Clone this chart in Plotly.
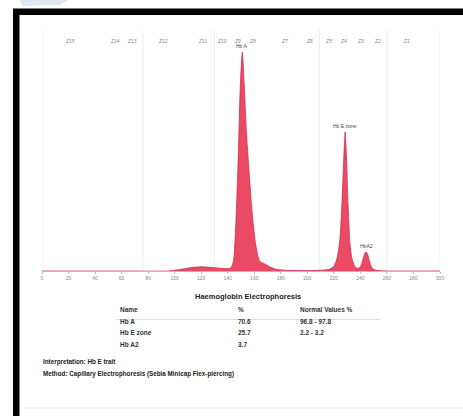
import plotly.graph_objects as go

# ---- data ----
mobility = [0, 60, 95, 105, 113, 120, 127, 135, 141, 143, 144.5, 146, 147.8, 149.5, 151, 152.5, 154, 156,
            158.5, 160.6, 162.5, 164, 167, 172, 177, 185, 200, 212, 217, 220, 222.5, 224.5, 226.2, 227.5,
            228.5, 229.5, 230.7, 232.2, 233.7, 235.5, 237.5, 239.8, 242, 243.3, 244.3, 245.5, 246.8,
            248.8, 252, 260, 300]
signal = [0, 0, 0, 0.8, 1.6, 1.9, 1.7, 1.2, 1.1, 2, 5, 20, 49, 85, 100, 84, 64, 46,
          26, 14, 7.5, 4.5, 3.5, 1.8, 0.7, 0.3, 0.2, 0.4, 0.9, 2.0, 6.0, 14, 32, 52,
          63.5, 52, 30, 12, 5.5, 2.4, 1.2, 1.6, 5.5, 8.0, 8.7, 7.5, 4.5,
          1.2, 0.3, 0, 0]

peak_labels = ["Hb A", "Hb E zone", "HbA2"]
peak_pos = [151, 228.5, 244.3]
peak_heights = [100, 63.5, 8.7]

zone_labels = ["Z15", "Z14", "Z13", "Z12", "Z11", "Z10", "Z9", "Z8", "Z7", "Z6", "Z5", "Z4", "Z3", "Z2", "Z1"]
zone_pos = [21, 55, 68, 91, 121, 136, 147, 159, 183, 202, 216, 227, 240, 253, 275]
zone_lines = [0, 76, 130, 209, 260, 300]

x_ticks = list(range(0, 301, 20))

table_title = "Haemoglobin Electrophoresis"
table_header = ["Name", "%", "Normal Values %"]
names = ["Hb A", "Hb E zone", "Hb A2"]
percents = ["70.6", "25.7", "3.7"]
normal_values = ["96.8 - 97.8", "2.2 - 3.2", ""]
interpretation = "Interpretation: Hb E trait"
method = "Method: Capillary Electrophoresis (Sebia Minicap Flex-piercing)"

# ---- layout geometry ----
W, H = 463, 416
L, R, T, B = 42, 440, 30, 271
PW, PH = R - L, B - T


def px(xp):
    return (xp - L) / PW


def py(yp):
    return (B - yp) / PH


FONT = "Liberation Sans"

fig = go.Figure()
fig.add_trace(go.Scatter(
    x=mobility, y=signal, mode="lines", fill="tozeroy",
    line=dict(color="#D92B4B", width=0.8, shape="spline", smoothing=0.5),
    fillcolor="#EA4A63", hoverinfo="skip", showlegend=False))

shapes = []
for z in zone_lines:
    shapes.append(dict(type="line", xref="x", yref="paper", x0=z, x1=z, y0=0, y1=1,
                       line=dict(color="#EDEDED", width=1), layer="below"))
# frame
shapes.append(dict(type="rect", xref="paper", yref="paper", x0=px(13), x1=px(19.5), y0=py(416), y1=py(9),
                   fillcolor="black", line=dict(width=0)))
shapes.append(dict(type="rect", xref="paper", yref="paper", x0=px(13), x1=px(463), y0=py(15), y1=py(8.5),
                   fillcolor="black", line=dict(width=0)))
# scan artifact top-left
shapes.append(dict(type="path", xref="paper", yref="paper",
                   path=f"M {px(20)} {py(0)} L {px(68)} {py(0)} L {px(60)} {py(5)} L {px(22)} {py(6)} Z",
                   fillcolor="#DDE8F2", line=dict(width=0)))
# table header underline
shapes.append(dict(type="line", xref="paper", yref="paper", x0=px(116), x1=px(380), y0=py(319.5), y1=py(319.5),
                   line=dict(color="#DDDDDD", width=1)))
# bottom faint line
shapes.append(dict(type="line", xref="paper", yref="paper", x0=px(20), x1=px(463), y0=py(408), y1=py(408),
                   line=dict(color="#EEEEEE", width=1)))

ann = []
for lab, xp, h in zip(peak_labels, peak_pos, peak_heights):
    ann.append(dict(x=xp, y=h, xref="x", yref="y", text=lab, showarrow=False, yanchor="bottom", yshift=1,
                    font=dict(family=FONT, size=5, color="#444444")))
for lab, zp in zip(zone_labels, zone_pos):
    ann.append(dict(x=zp, y=py(36), xref="x", yref="paper", text=f"<i>{lab}</i>", showarrow=False,
                    font=dict(family=FONT, size=5, color="#888888")))

ann.append(dict(x=px(248), y=py(303), xref="paper", yref="paper", text=f"<b>{table_title}</b>",
                showarrow=False, font=dict(family=FONT, size=7.5, color="#222222")))
col_x = [118, 236, 298]
for cx, h in zip(col_x, table_header):
    ann.append(dict(x=px(cx), y=py(315), xref="paper", yref="paper", text=f"<b>{h}</b>", showarrow=False,
                    xanchor="left", font=dict(family=FONT, size=6.5, color="#333333")))
row_y = [327, 338, 350]
for ry, n, p, nv in zip(row_y, names, percents, normal_values):
    for cx, t in zip(col_x, [n, p, nv]):
        if t:
            ann.append(dict(x=px(cx), y=py(ry), xref="paper", yref="paper", text=f"<b>{t}</b>",
                            showarrow=False, xanchor="left",
                            font=dict(family=FONT, size=6.5, color="#333333")))
ann.append(dict(x=px(41), y=py(368), xref="paper", yref="paper", text=f"<b>{interpretation}</b>",
                showarrow=False, xanchor="left", font=dict(family=FONT, size=6.3, color="#222222")))
ann.append(dict(x=px(41), y=py(380), xref="paper", yref="paper", text=f"<b>{method}</b>",
                showarrow=False, xanchor="left", font=dict(family=FONT, size=6.3, color="#222222")))

fig.update_layout(
    width=W, height=H, margin=dict(l=L, r=W - R, t=T, b=H - B),
    paper_bgcolor="white", plot_bgcolor="white",
    shapes=shapes, annotations=ann,
    xaxis=dict(range=[0, 300], tickvals=x_ticks, showgrid=False, zeroline=False,
               showline=True, linecolor="#BBBBBB", linewidth=1, ticks="outside", ticklen=2,
               tickcolor="#BBBBBB", tickfont=dict(family=FONT, size=5, color="#888888")),
    yaxis=dict(range=[0, 110], visible=False, showgrid=False, zeroline=False),
)

fig.write_html("out.html", config={"displayModeBar": False},
               post_script="document.body.style.margin='0px';document.body.style.overflow='hidden';")
